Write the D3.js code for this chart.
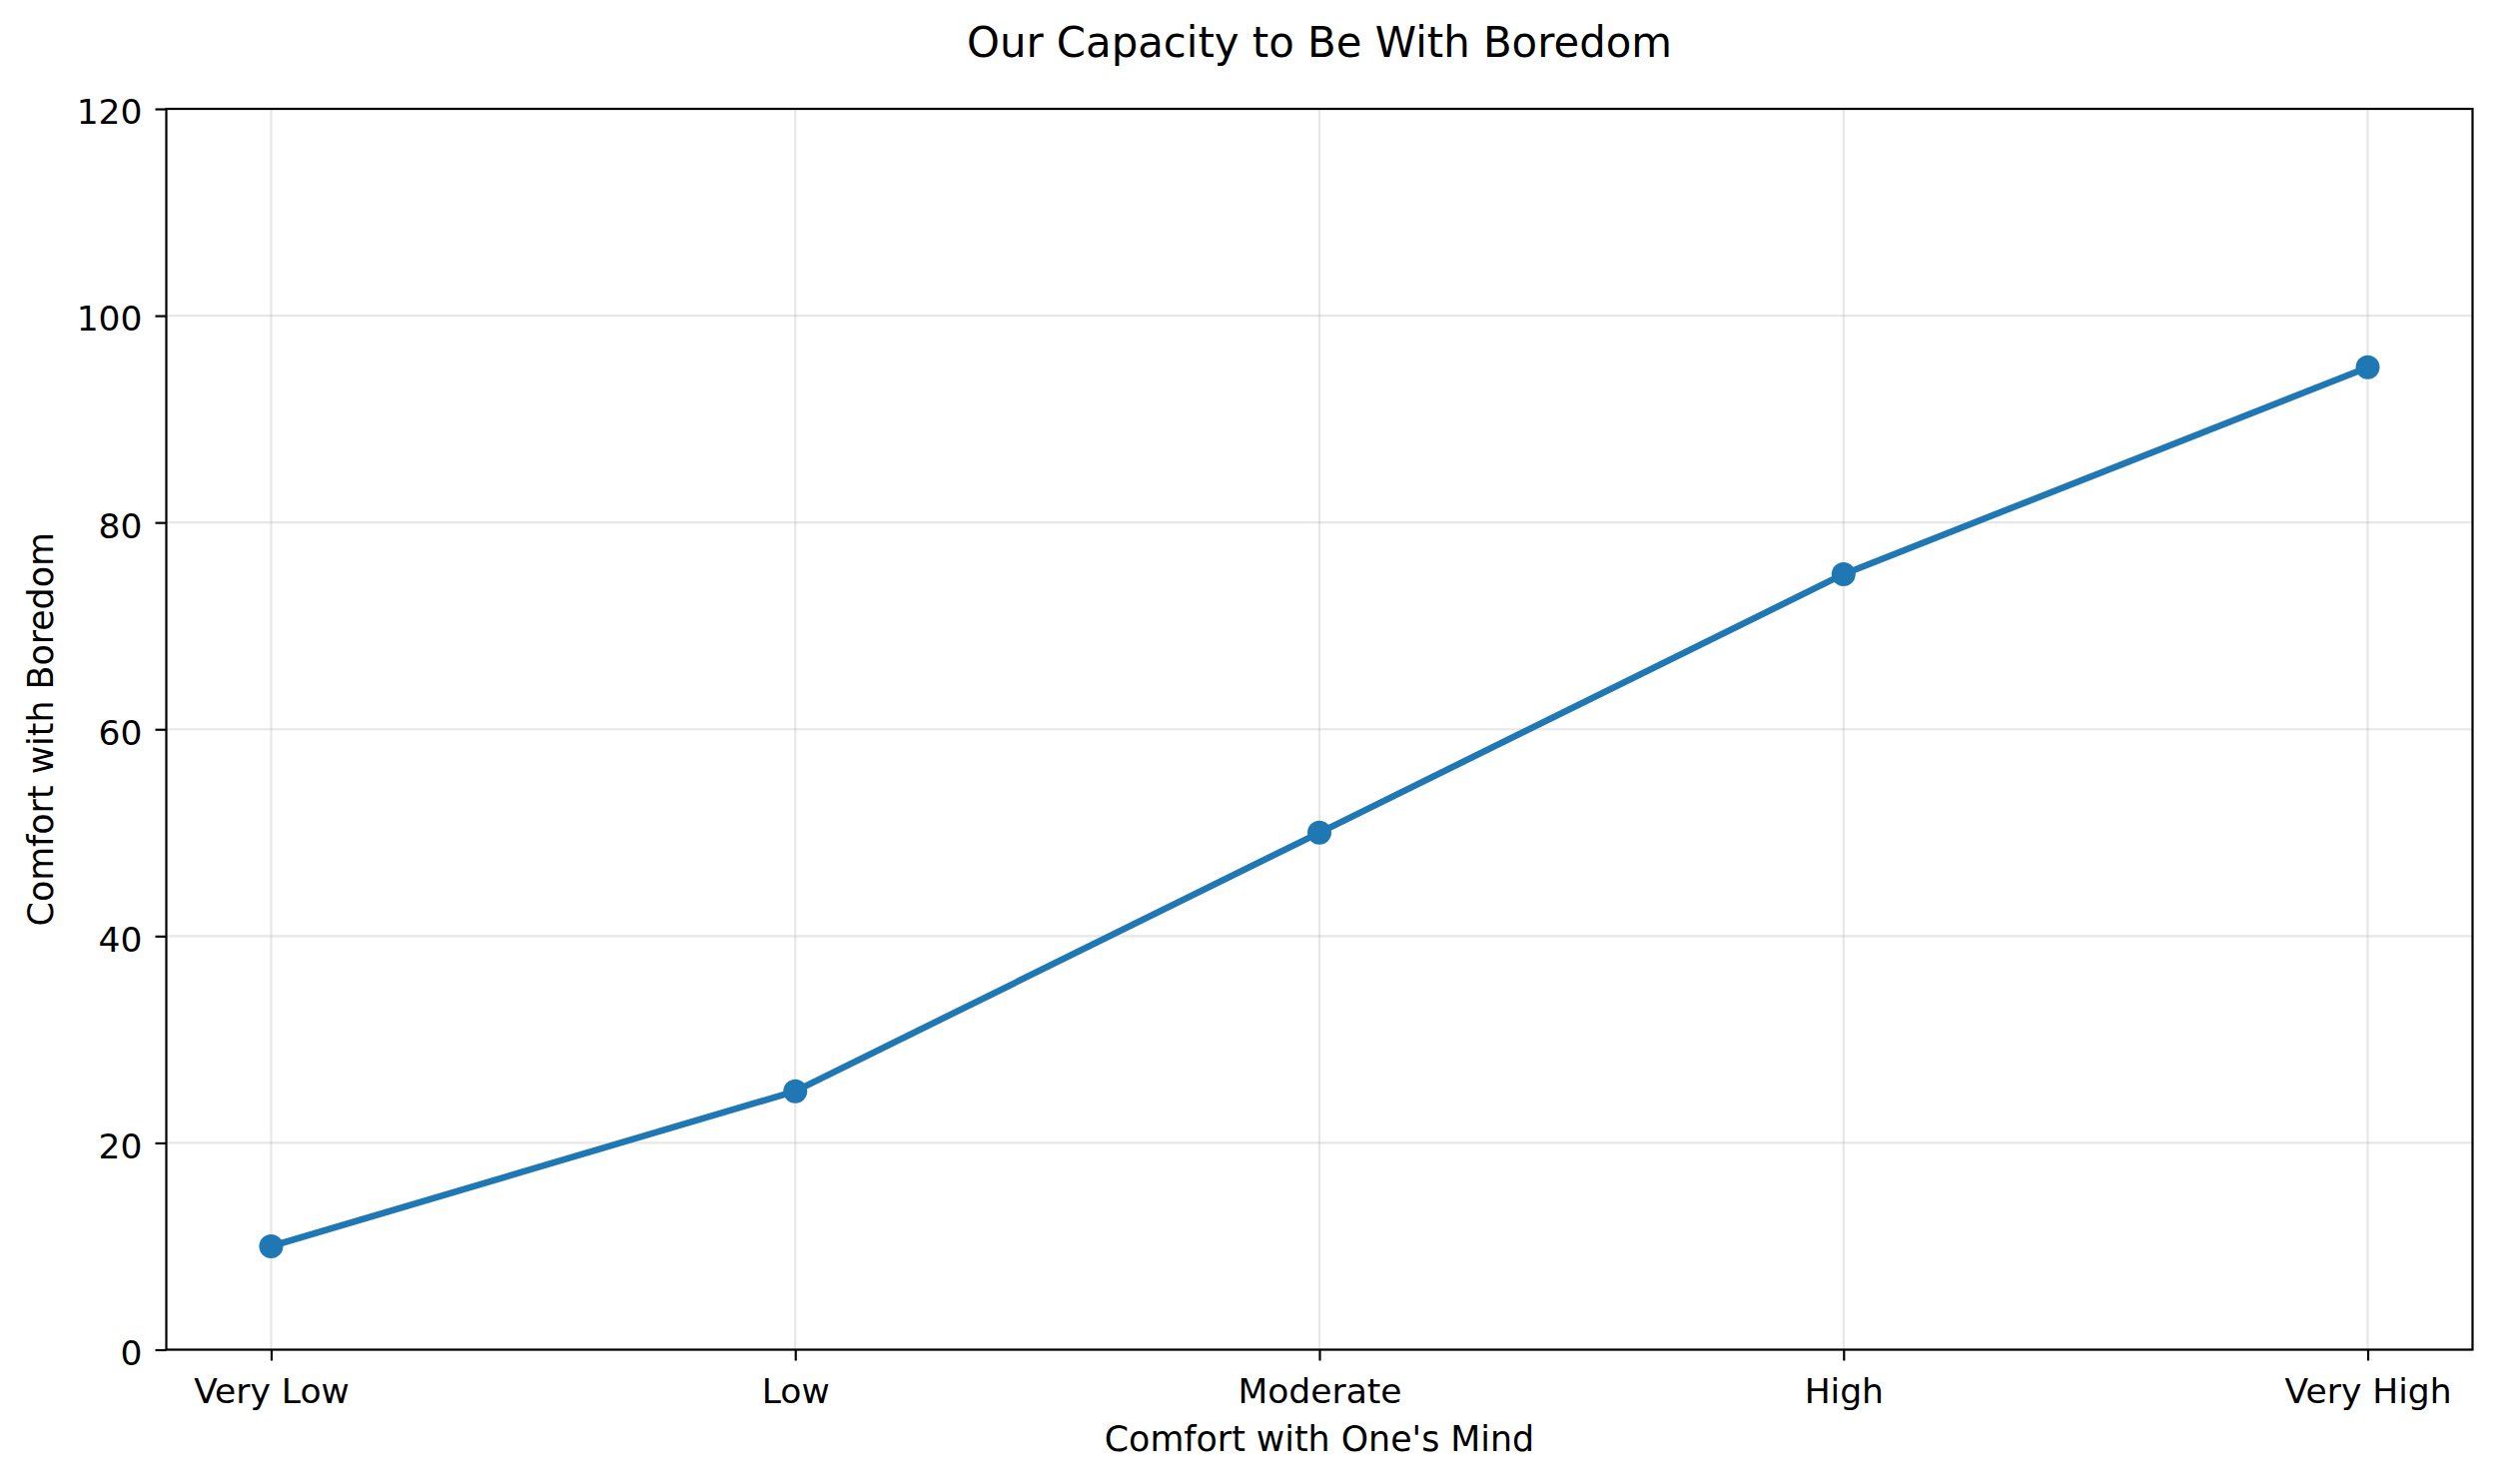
<!DOCTYPE html>
<html>
<head>
<meta charset="utf-8">
<script src="https://cdn.jsdelivr.net/npm/d3@7"></script>
<style>
  html, body { margin: 0; padding: 0; background: #ffffff; }
  svg { display: block; }
  text { font-family: "DejaVu Sans", sans-serif; fill: #000; }
</style>
</head>
<body>
<svg id="chart" width="2500" height="1486"></svg>
<script>
const categories = ["Very Low", "Low", "Moderate", "High", "Very High"];
const values = [10, 25, 50, 75, 95];
const yTicks = [0, 20, 40, 60, 80, 100, 120];
const title = "Our Capacity to Be With Boredom";
const xLabel = "Comfort with One's Mind";
const yLabel = "Comfort with Boredom";

const W = 2500, H = 1486;
const margin = { left: 166.5, right: W - 2475.5, top: 109, bottom: H - 1351.5 };
const iw = W - margin.left - margin.right;
const ih = H - margin.top - margin.bottom;

const svg = d3.select("#chart");
svg.append("rect").attr("width", W).attr("height", H).attr("fill", "#fff");

const g = svg.append("g").attr("transform", `translate(${margin.left},${margin.top})`);

const x = d3.scalePoint().domain(categories).range([0, iw]).padding(0.2);
const y = d3.scaleLinear().domain([0, 120]).range([ih, 0]);

// grid
g.append("g").selectAll("line.gx").data(categories).join("line")
  .attr("x1", d => x(d)).attr("x2", d => x(d))
  .attr("y1", 0).attr("y2", ih)
  .attr("stroke", "#b0b0b0").attr("stroke-opacity", 0.3).attr("stroke-width", 2.2);
g.append("g").selectAll("line.gy").data(yTicks).join("line")
  .attr("x1", 0).attr("x2", iw)
  .attr("y1", d => y(d)).attr("y2", d => y(d))
  .attr("stroke", "#b0b0b0").attr("stroke-opacity", 0.3).attr("stroke-width", 2.2);

// line
const line = d3.line().x((d, i) => x(categories[i])).y(d => y(d));
g.append("path").datum(values)
  .attr("d", line)
  .attr("fill", "none")
  .attr("stroke", "#1f77b4")
  .attr("stroke-width", 6.5)
  .attr("stroke-linejoin", "round")
  .attr("stroke-linecap", "square");

g.selectAll("circle.pt").data(values).join("circle")
  .attr("cx", (d, i) => x(categories[i]))
  .attr("cy", d => y(d))
  .attr("r", 12)
  .attr("fill", "#1f77b4");

// axes
const xAxis = g.append("g").attr("transform", `translate(0,${ih})`)
  .call(d3.axisBottom(x).tickSize(11).tickPadding(10).tickSizeOuter(0));
xAxis.select(".domain").remove();
xAxis.selectAll(".tick line").attr("stroke", "#000").attr("stroke-width", 2.2);
xAxis.selectAll(".tick text")
  .attr("y", 53.5).attr("dy", "0")
  .style("font-size", "34.5px")
  .style("font-family", "'DejaVu Sans', sans-serif")
  .attr("fill", "#000");

const yAxis = g.append("g")
  .call(d3.axisLeft(y).tickValues(yTicks).tickSize(11).tickPadding(10).tickSizeOuter(0));
yAxis.select(".domain").remove();
yAxis.selectAll(".tick line").attr("stroke", "#000").attr("stroke-width", 2.2);
yAxis.selectAll(".tick text")
  .attr("x", -24).attr("dy", "0.43em")
  .style("font-size", "34.5px")
  .style("font-family", "'DejaVu Sans', sans-serif")
  .attr("fill", "#000");

// frame
g.append("rect").attr("x", 0).attr("y", 0).attr("width", iw).attr("height", ih)
  .attr("fill", "none").attr("stroke", "#000").attr("stroke-width", 2.2);

// labels
svg.append("text")
  .attr("x", margin.left + iw / 2).attr("y", 57)
  .attr("text-anchor", "middle")
  .style("font-size", "41.8px")
  .text(title);

svg.append("text")
  .attr("x", margin.left + iw / 2).attr("y", 1453)
  .attr("text-anchor", "middle")
  .style("font-size", "34.8px")
  .text(xLabel);

svg.append("text")
  .attr("transform", `translate(53,${margin.top + ih / 2}) rotate(-90)`)
  .attr("text-anchor", "middle")
  .style("font-size", "34.8px")
  .text(yLabel);
</script>
</body>
</html>
